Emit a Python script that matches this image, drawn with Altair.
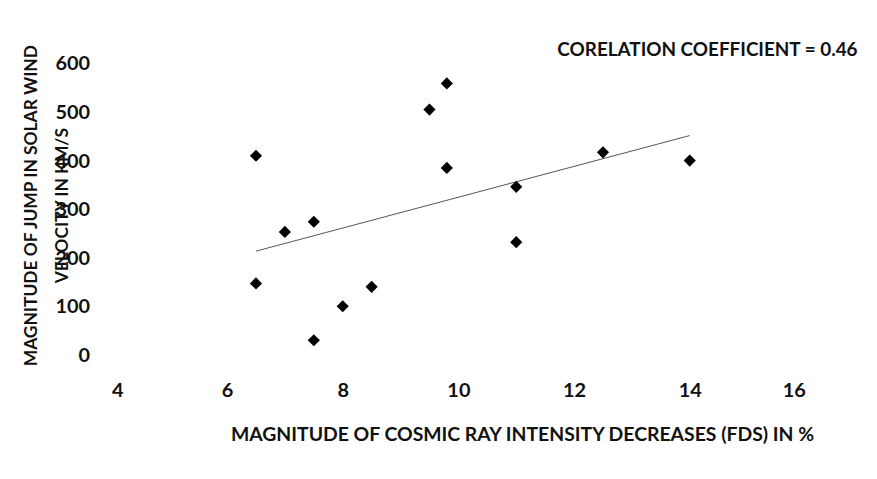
import altair as alt
import pandas as pd

fd_percent = [6.5, 7.0, 7.5, 6.5, 8.5, 8.0, 7.5, 9.5, 9.8, 9.8, 11.0, 11.0, 12.5, 14.0]
jump_kms = [411, 254, 275, 148, 141, 101, 31, 506, 560, 386, 347, 233, 418, 401]
x_ticks = [4, 6, 8, 10, 12, 14, 16]
y_ticks = [0, 100, 200, 300, 400, 500, 600]

df = pd.DataFrame({"fd": fd_percent, "jump": jump_kms})

FONT = "Lato"

x_enc = alt.X(
    "fd:Q",
    scale=alt.Scale(domain=[4, 16], nice=False, zero=False),
    axis=alt.Axis(
        values=x_ticks, format="d",
        title="MAGNITUDE OF COSMIC RAY INTENSITY DECREASES (FDS) IN %",
        grid=False, domain=False, ticks=False,
        labelPadding=25, labelFontSize=20, labelFontWeight="bold",
        labelFont=FONT, labelColor="#111",
        titleFont=FONT, titleFontSize=19.5, titleFontWeight="bold", titleColor="#111",
        titleX=413, titleY=80, titleAlign="center", titleBaseline="middle",
    ),
)
y_enc = alt.Y(
    "jump:Q",
    scale=alt.Scale(domain=[0, 600], nice=False),
    axis=alt.Axis(
        values=y_ticks, format="d",
        title=["MAGNITUDE OF JUMP IN SOLAR WIND", "VELOCITY IN KM/S"],
        grid=False, domain=False, ticks=False,
        labelPadding=22, labelFontSize=20, labelFontWeight="bold",
        labelFont=FONT, labelColor="#111",
        titleFont=FONT, titleFontSize=17.5, titleFontWeight="bold", titleColor="#111",
        titleX=-80, titleY=142, titleAlign="center", titleBaseline="middle",
        titleLineHeight=31, titleAngle=270,
    ),
)

points = alt.Chart(df).mark_point(
    shape="diamond", filled=True, size=150, color="#000", opacity=1
).encode(x=x_enc, y=y_enc)

trend = alt.Chart(df).transform_regression("fd", "jump").mark_line(
    color="#555", strokeWidth=1
).encode(x="fd:Q", y="jump:Q")

chart = alt.layer(trend, points).properties(
    width=698,
    height=293,
    background="white",
    title=alt.TitleParams(
        "CORELATION COEFFICIENT = 0.46",
        anchor="end", font=FONT, fontSize=19, fontWeight="bold", color="#111",
        dx=43, dy=25, offset=9,
    ),
    autosize=alt.AutoSizeParams(type="none"),
    padding={"left": 104, "top": 55, "right": 64, "bottom": 100},
).configure_view(stroke=None)

chart.save("out.html", embed_options={"renderer": "svg", "actions": False})
